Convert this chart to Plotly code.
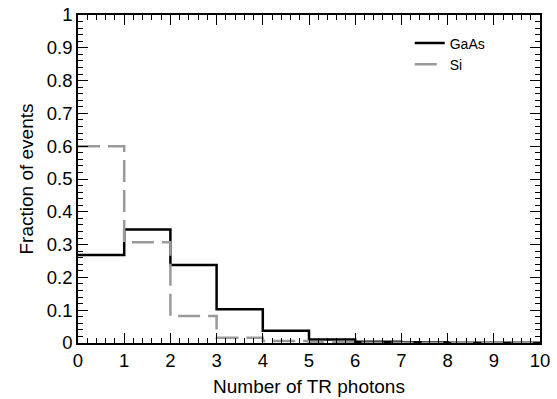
import plotly.graph_objects as go

bin_edges = [0, 1, 2, 3, 4, 5, 6, 7, 8, 9, 10]
gaas = [0.268, 0.346, 0.238, 0.103, 0.037, 0.011, 0.004, 0.002, 0.001, 0.001]
si = [0.600, 0.307, 0.082, 0.016, 0.006, 0.003, 0.001, 0.001, 0.0005, 0.0005]

FONT = "Liberation Sans, Arial, Helvetica"

fig = go.Figure()
fig.add_trace(go.Scatter(x=bin_edges, y=gaas + [gaas[-1]], mode="lines", line_shape="hv",
                         name="GaAs", line=dict(color="black", width=2.5)))
fig.add_trace(go.Scatter(x=bin_edges, y=si + [si[-1]], mode="lines", line_shape="hv",
                         name="Si", line=dict(color="#9a9a9a", width=2.5, dash="22px,8px")))

axis_common = dict(showgrid=False, zeroline=False, showline=True, linecolor="black", linewidth=1.5,
                   mirror="ticks", ticks="inside", ticklen=10, tickwidth=1, tickcolor="black",
                   automargin=False,
                   tickfont=dict(family=FONT, size=18.5, color="black"))

fig.update_xaxes(range=[0, 10], dtick=1, tick0=0,
                 minor=dict(dtick=0.2, ticks="inside", ticklen=5, tickcolor="black"),
                 title=dict(text="Number of TR photons", font=dict(family=FONT, size=19, color="black"), standoff=10),
                 **axis_common)
fig.update_yaxes(range=[0, 1], dtick=0.1, tick0=0,
                 minor=dict(dtick=0.02, ticks="inside", ticklen=5, tickcolor="black"),
                 title=dict(text="Fraction of events", font=dict(family=FONT, size=19, color="black"), standoff=8),
                 **axis_common)

fig.update_layout(width=557, height=399, plot_bgcolor="white", paper_bgcolor="white",
                  margin=dict(l=78, r=17, t=15, b=56),
                  font=dict(family=FONT, color="black"),
                  legend=dict(x=0.718, y=0.962, xanchor="left", yanchor="top", bgcolor="rgba(0,0,0,0)",
                              font=dict(size=14), itemwidth=30, tracegroupgap=0))

fig.write_html("out.html")
